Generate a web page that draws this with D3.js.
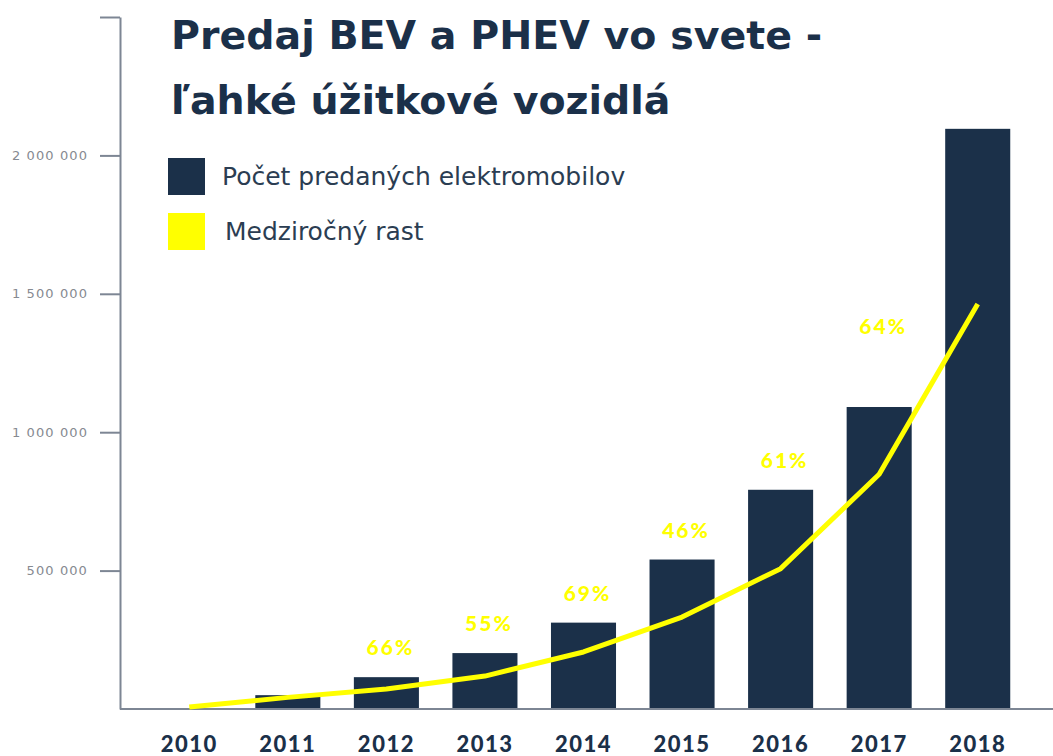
<!DOCTYPE html>
<html>
<head>
<meta charset="utf-8">
<script src="https://cdn.jsdelivr.net/npm/d3@7"></script>
<style>
  body { margin: 0; background: #fff; }
  svg { display: block; }
  .title { font-family: 'DejaVu Sans', Verdana, sans-serif; font-weight: bold; font-size: 39.5px; fill: #1b3049; }
  .legend-text { font-family: 'DejaVu Sans', Verdana, sans-serif; font-size: 25px; fill: #2b3d52; }
  .y-axis text { font-family: 'DejaVu Sans', sans-serif; font-size: 13px; fill: #868a91; letter-spacing: 1.1px; }
  .axis path, .axis line { stroke: #7d8694; stroke-width: 2; }
  .x-axis text { font-family: Lato, sans-serif; font-weight: 900; font-size: 22px; fill: #1b3049; letter-spacing: 1.5px; }
  .growth { font-family: Lato, sans-serif; font-weight: 900; font-size: 21px; fill: #ffff00; letter-spacing: 2px; }
</style>
</head>
<body>
<svg id="chart" width="1053" height="756"></svg>
<script>
// data
const years = ['2010', '2011', '2012', '2013', '2014', '2015', '2016', '2017', '2018'];
const sales = [0, 50000, 115000, 202000, 312000, 540000, 792000, 1091000, 2096000];
const trend = [7000, 42000, 72000, 119000, 206000, 332000, 507000, 848000, 1463000];
const growthLabels = ['', '', '66%', '55%', '69%', '46%', '61%', '64%', ''];
const yTicks = [500000, 1000000, 1500000, 2000000, 2500000];

const navy = '#1b3049';
const yellow = '#ffff00';

const svg = d3.select('#chart');

const x = d3.scaleBand()
  .domain(years)
  .range([140, 1027])
  .paddingInner(0.34)
  .paddingOuter(0.17);

const y = d3.scaleLinear()
  .domain([0, 2500000])
  .range([709, 17]);

const fmt = d3.formatLocale({ decimal: ',', thousands: ' ', grouping: [3], currency: ['', ''] }).format(',');

// y axis
const yAxis = d3.axisLeft(y)
  .tickValues(yTicks)
  .tickSize(20)
  .tickSizeOuter(0)
  .tickPadding(12)
  .tickFormat(d => d === 2500000 ? '' : fmt(d));

svg.append('g')
  .attr('class', 'axis y-axis')
  .attr('transform', 'translate(120,0)')
  .call(yAxis);

// bars
svg.append('g')
  .selectAll('rect')
  .data(sales)
  .join('rect')
    .attr('x', (d, i) => x(years[i]))
    .attr('y', d => y(d))
    .attr('width', x.bandwidth())
    .attr('height', d => y(0) - y(d))
    .attr('fill', navy);

// baseline
svg.append('line')
  .attr('class', 'baseline')
  .attr('x1', 120).attr('x2', 1053)
  .attr('y1', y(0)).attr('y2', y(0))
  .attr('stroke', '#7d8694')
  .attr('stroke-width', 2);

// x axis labels
const xAxisG = svg.append('g')
  .attr('class', 'axis x-axis')
  .attr('transform', `translate(0,${y(0)})`)
  .call(d3.axisBottom(x).tickSize(0).tickPadding(27));
xAxisG.select('.domain').remove();

// trend line
const line = d3.line()
  .x((d, i) => x(years[i]) + x.bandwidth() / 2)
  .y(d => y(d));

svg.append('path')
  .attr('d', line(trend))
  .attr('fill', 'none')
  .attr('stroke', yellow)
  .attr('stroke-width', 5)
  .attr('stroke-linejoin', 'round');

// growth labels above bars (2017 label sits higher in the original)
svg.append('g')
  .selectAll('text')
  .data(growthLabels)
  .join('text')
    .attr('class', 'growth')
    .attr('text-anchor', 'middle')
    .attr('x', (d, i) => x(years[i]) + x.bandwidth() / 2 + 4)
    .attr('y', (d, i) => y(sales[i]) - (years[i] === '2017' ? 73 : 22))
    .text(d => d);

// title
const title = svg.append('text').attr('class', 'title');
title.append('tspan').attr('x', 171).attr('y', 49).text('Predaj BEV a PHEV vo svete -');
title.append('tspan').attr('x', 171).attr('y', 114).text('ľahké úžitkové vozidlá');

// legend
const legend = [
  { label: 'Počet predaných elektromobilov', color: navy, tx: 222 },
  { label: 'Medziročný rast', color: yellow, tx: 225 }
];
const lg = svg.append('g').selectAll('g')
  .data(legend)
  .join('g')
    .attr('transform', (d, i) => `translate(168,${158 + i * 55})`);
lg.append('rect')
  .attr('width', 37).attr('height', 37)
  .attr('fill', d => d.color);
lg.append('text')
  .attr('class', 'legend-text')
  .attr('x', d => d.tx - 168)
  .attr('y', 27)
  .text(d => d.label);
</script>
</body>
</html>
